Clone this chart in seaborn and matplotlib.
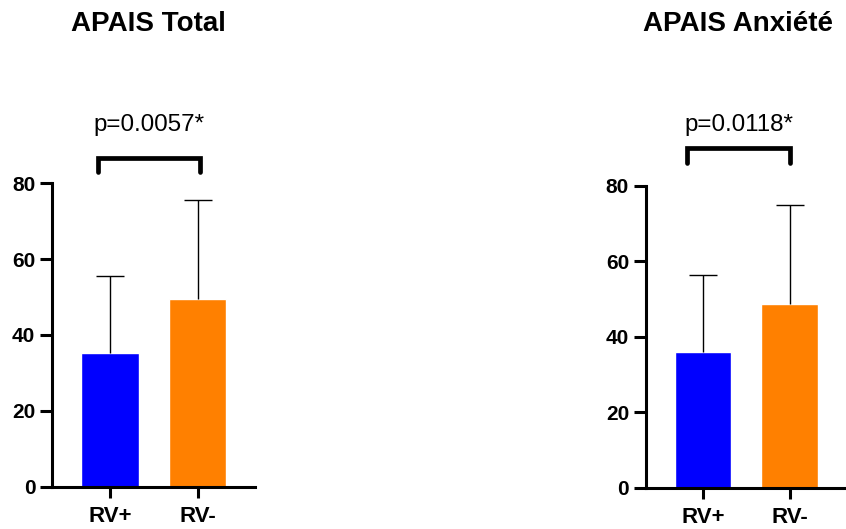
import matplotlib
matplotlib.use("Agg")
import matplotlib.pyplot as plt
import seaborn as sns
import pandas as pd

sns.set_style("white")
plt.rcParams['font.family'] = ['Liberation Sans', 'DejaVu Sans']
plt.rcParams['text.color'] = 'black'
plt.rcParams['xtick.color'] = 'black'
plt.rcParams['ytick.color'] = 'black'

groups = ["RV+", "RV-"]
colors = ["#0000FF", "#FF8000"]

total_mean = [35.2, 49.5]
total_sd = [20.4, 26.1]
anx_mean = [35.9, 48.6]
anx_sd = [20.5, 26.4]

titles = ["APAIS Total", "APAIS Anxiété"]
pvals = ["p=0.0057*", "p=0.0118*"]
yticks = [0, 20, 40, 60, 80]

fig = plt.figure(figsize=(8.46, 5.29), dpi=100)
ax1 = fig.add_axes([52/846, 1-486.7/529, 203/846, 303.4/529])
ax2 = fig.add_axes([645.7/846, 1-487.7/529, 200.3/846, 301.7/529])

panels = [(ax1, total_mean, total_sd, titles[0], pvals[0], 158, 172, (-0.14, 1.02)),
          (ax2, anx_mean, anx_sd, titles[1], pvals[1], 148, 163, (-0.18, 1.0))]

for ax, means, sds, title, ptxt, by, bend, (bx0, bx1) in panels:
    df = pd.DataFrame({"group": groups, "value": means})
    sns.barplot(data=df, x="group", y="value", hue="group", palette=colors,
                width=0.65, legend=False, ax=ax, errorbar=None, saturation=1)
    ax.errorbar([0, 1], means, yerr=[[0, 0], sds], fmt="none", ecolor="black",
                elinewidth=1.0, capsize=0, zorder=1)
    tops = [m + s for m, s in zip(means, sds)]
    ax.plot([0, 1], tops, linestyle="none", marker="_", markersize=20,
            markeredgewidth=1.0, color="black", zorder=1)
    ax.set_xlim(-0.66, 1.65)
    ax.set_ylim(0, 80)
    ax.set_yticks(yticks)
    ax.set_xlabel("")
    ax.set_ylabel("")
    for s in ["top", "right"]:
        ax.spines[s].set_visible(False)
    for s in ["left", "bottom"]:
        ax.spines[s].set_linewidth(2.2)
        ax.spines[s].set_color("black")
    ax.tick_params(axis="y", length=9, width=2.2, pad=3, labelsize=15, left=True)
    ax.tick_params(axis="x", length=8, width=2.2, pad=6, labelsize=16, bottom=True)
    for lab in ax.get_xticklabels() + ax.get_yticklabels():
        lab.set_fontweight("bold")
    trans = matplotlib.transforms.blended_transform_factory(ax.transData, fig.transFigure)
    yb = 1 - by/529
    ye = 1 - bend/529
    ax.plot([bx0, bx0, bx1, bx1], [ye, yb, yb, ye], transform=trans, color="black",
            lw=3.4, clip_on=False, solid_capstyle="round", solid_joinstyle="miter")
    ax.text((bx0 + bx1) / 2, 1 - 125/529, ptxt, transform=trans, ha="center",
            va="center", fontsize=17.4)
    ax.text((bx0 + bx1) / 2, 1 - 24/529, title, transform=trans, ha="center",
            va="center", fontsize=20, fontweight="bold")

fig.savefig("out.png", dpi=100)
